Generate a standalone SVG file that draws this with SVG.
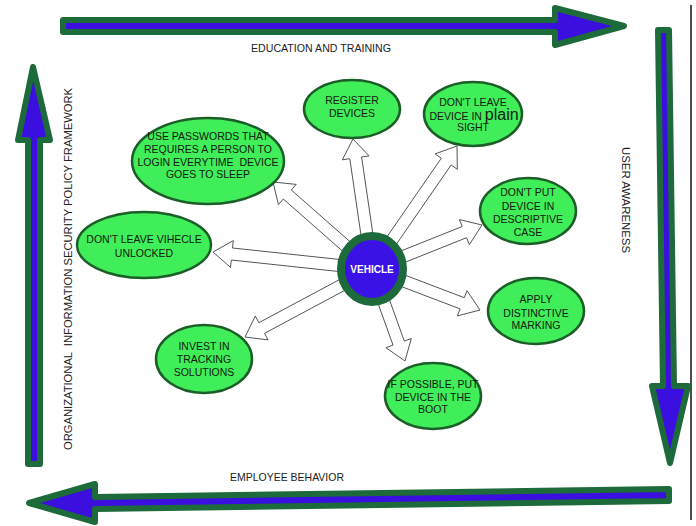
<svg xmlns="http://www.w3.org/2000/svg" width="696" height="526" viewBox="0 0 696 526">
<style>
.big{fill:#3a0fe0;stroke:#1d6a3a;stroke-width:6;stroke-linejoin:round}
.node{fill:#40ee5a;stroke:#1b5e28;stroke-width:2.5}
.t{font-family:"Liberation Sans",Arial,sans-serif;font-size:10.5px;fill:#13200f;text-anchor:middle}
.lbl{font-family:"Liberation Sans",Arial,sans-serif;font-size:10.5px;fill:#222;text-anchor:middle}
.conn{fill:#fff;stroke:#555;stroke-width:1;stroke-linejoin:miter}
</style>
<rect width="696" height="526" fill="#fff"/>
<line x1="691" y1="5" x2="691" y2="520" stroke="#111" stroke-width="1.5"/>
<g id="frame">
<path class="big" d="M63,20 L555,20 L555,8 L624,26 L555,45 L555,32 L63,32 Z"/>
<path class="big" d="M658,30 L669,30 L674,386 L688,386 L670,463 L652,386 L663,386 Z"/>
<path class="big" d="M29,503 L95,484 L95,497 L669,489 L669,501 L95,509 L95,522 Z"/>
<path class="big" d="M33,67 L50,140 L40,140 L40,464 L28,464 L28,140 L18,140 Z"/>
<text class="lbl" x="321" y="52" textLength="140" lengthAdjust="spacingAndGlyphs">EDUCATION AND TRAINING</text>
<text class="lbl" x="287" y="481" textLength="114" lengthAdjust="spacingAndGlyphs">EMPLOYEE BEHAVIOR</text>
<text class="lbl" style="font-size:11px" transform="translate(622,200) rotate(90)" textLength="106" lengthAdjust="spacingAndGlyphs">USER AWARENESS</text>
<text class="lbl" style="font-size:11px" transform="translate(72,269) rotate(-90)" textLength="362" lengthAdjust="spacingAndGlyphs" xml:space="preserve">ORGANIZATIONAL  INFORMATION SECURITY POLICY FRAMEWORK</text>
</g>
<g id="connectors">
<polygon class="conn" points="377.9,268.1 361.6,156.9 369.1,155.9 353,139 342.3,159.8 349.8,158.7 366.1,269.9"/>
<polygon class="conn" points="376.0,264.5 291.3,190.0 296.2,184.4 273,182 278.4,204.6 283.3,199.0 368.0,273.5"/>
<polygon class="conn" points="376.9,272.4 451.1,165.0 457.3,169.3 457,146 435.1,153.9 441.3,158.2 367.1,265.6"/>
<polygon class="conn" points="374.2,274.6 466.6,237.7 469.4,244.6 482,225 459.4,219.6 462.2,226.5 369.8,263.4"/>
<polygon class="conn" points="372.6,263.0 232.5,248.0 233.3,240.6 213,252 230.5,267.4 231.3,260.0 371.4,275.0"/>
<polygon class="conn" points="369.2,263.7 258.9,322.7 255.3,316.1 245,337 268.1,339.9 264.5,333.3 374.8,274.3"/>
<polygon class="conn" points="369.9,274.6 460.1,308.9 457.4,315.9 480,310 467.0,290.7 464.3,297.7 374.1,263.4"/>
<polygon class="conn" points="366.4,271.0 393.0,345.1 385.9,347.7 405,361 411.3,338.5 404.3,341.1 377.7,267.0"/>
</g>
<g id="vehicle">
<ellipse cx="372" cy="269" rx="31" ry="33" fill="#3b12e6" stroke="#1d6a3a" stroke-width="8"/>
<text class="t" x="372" y="273" style="fill:#fff;font-weight:bold;font-size:10px">VEHICLE</text>
</g>
<g id="passwords">
<ellipse class="node" cx="208" cy="161" rx="76" ry="43"/>
<text class="t" x="208" y="140">USE PASSWORDS THAT</text>
<text class="t" x="208" y="153">REQUIRES A PERSON TO</text>
<text class="t" x="208" y="166" xml:space="preserve">LOGIN EVERYTIME  DEVICE</text>
<text class="t" x="208" y="178">GOES TO SLEEP</text>
</g>
<g id="register">
<ellipse class="node" cx="352" cy="109" rx="48" ry="29"/>
<text class="t" x="352" y="104">REGISTER</text>
<text class="t" x="352" y="117">DEVICES</text>
</g>
<g id="plainsight">
<ellipse class="node" cx="473" cy="114" rx="49" ry="32"/>
<text class="t" x="473" y="106">DON'T LEAVE</text>
<text class="t" x="474" y="120">DEVICE IN <tspan style="font-size:16px">plain</tspan></text>
<text class="t" x="473" y="131">SIGHT</text>
</g>
<g id="case">
<ellipse class="node" cx="528" cy="211" rx="48" ry="33"/>
<text class="t" x="528" y="196">DON'T PUT</text>
<text class="t" x="528" y="210">DEVICE IN</text>
<text class="t" x="528" y="223">DESCRIPTIVE</text>
<text class="t" x="528" y="236">CASE</text>
</g>
<g id="unlocked">
<ellipse class="node" cx="144" cy="245" rx="67" ry="33"/>
<text class="t" x="144" y="243">DON'T LEAVE VIHECLE</text>
<text class="t" x="144" y="257">UNLOCKED</text>
</g>
<g id="tracking">
<ellipse class="node" cx="204" cy="359" rx="48" ry="34"/>
<text class="t" x="204" y="350">INVEST IN</text>
<text class="t" x="204" y="363">TRACKING</text>
<text class="t" x="204" y="376">SOLUTIONS</text>
</g>
<g id="marking">
<ellipse class="node" cx="536" cy="311" rx="48" ry="33"/>
<text class="t" x="536" y="303">APPLY</text>
<text class="t" x="536" y="317">DISTINCTIVE</text>
<text class="t" x="536" y="329">MARKING</text>
</g>
<g id="boot">
<ellipse class="node" cx="433" cy="396" rx="48" ry="33"/>
<text class="t" x="433" y="388">IF POSSIBLE, PUT</text>
<text class="t" x="433" y="401">DEVICE IN THE</text>
<text class="t" x="433" y="413">BOOT</text>
</g>
</svg>
